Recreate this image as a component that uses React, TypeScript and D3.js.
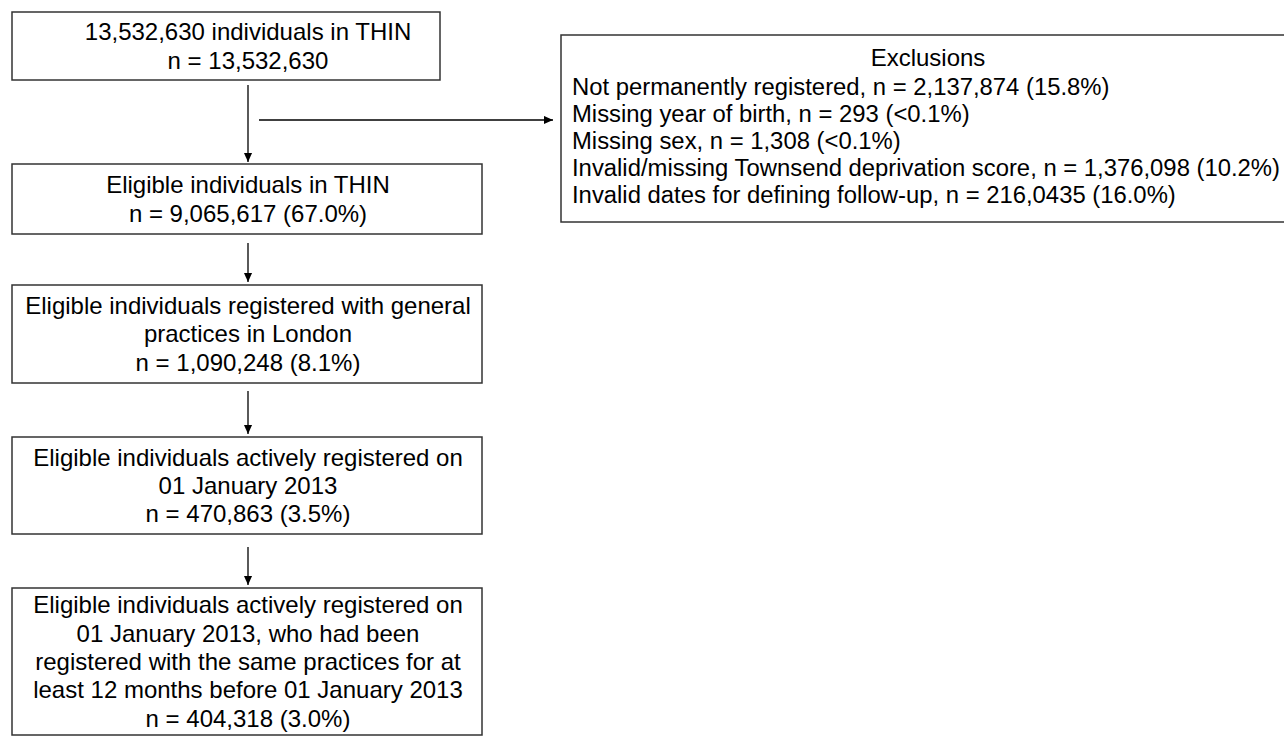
import React, { useEffect, useRef } from 'react'
import * as d3 from 'd3'

// flow steps (text lines of each box)
const stepLabels: string[][] = [
  ['13,532,630 individuals in THIN', 'n = 13,532,630'],
  ['Eligible individuals in THIN', 'n = 9,065,617 (67.0%)'],
  ['Eligible individuals registered with general', 'practices in London', 'n = 1,090,248 (8.1%)'],
  ['Eligible individuals actively registered on', '01 January 2013', 'n = 470,863 (3.5%)'],
  [
    'Eligible individuals actively registered on',
    '01 January 2013, who had been',
    'registered with the same practices for at',
    'least 12 months before 01 January 2013',
    'n = 404,318 (3.0%)',
  ],
]

const exclusionTitle = 'Exclusions'
const exclusionLines: string[] = [
  'Not permanently registered, n = 2,137,874 (15.8%)',
  'Missing year of birth, n = 293 (<0.1%)',
  'Missing sex, n = 1,308 (<0.1%)',
  'Invalid/missing Townsend deprivation score, n = 1,376,098 (10.2%)',
  'Invalid dates for defining follow-up, n = 216,0435 (16.0%)',
]

// layout of the boxes (x0, y0, x1, y1)
const stepBoxes = [
  [12, 12, 440, 80],
  [12, 164, 482, 234],
  [12, 285, 482, 383],
  [12, 437, 482, 534],
  [12, 588, 482, 735],
]
const arrowSpans = [
  [85, 162],
  [243, 282],
  [391, 434],
  [547, 585],
]

const App = () => {
  const ref = useRef<SVGSVGElement>(null)

  useEffect(() => {
    draw()
  })

  const draw = () => {
    const width = 1284
    const height = 740
    const lineH = 28.3
    const font = 'Liberation Sans, Arial, sans-serif'
    const svg = d3.select(ref.current)
    svg.selectAll('*').remove()
    svg.attr('width', width).attr('height', height)

    svg
      .append('defs')
      .append('marker')
      .attr('id', 'arr')
      .attr('viewBox', '0 0 10 10')
      .attr('refX', 10)
      .attr('refY', 5)
      .attr('markerWidth', 9)
      .attr('markerHeight', 9)
      .attr('markerUnits', 'userSpaceOnUse')
      .attr('orient', 'auto')
      .append('path')
      .attr('d', 'M0,0.5L10,5L0,9.5Z')
      .attr('fill', '#000')

    const xMid = 248

    const g = svg.append('g')
    stepLabels.forEach((lines, i) => {
      const [x0, y0, x1, y1] = stepBoxes[i]
      g.append('rect')
        .attr('x', x0)
        .attr('y', y0)
        .attr('width', x1 - x0)
        .attr('height', y1 - y0)
        .attr('fill', '#fff')
        .attr('stroke', '#333')
        .attr('stroke-width', 1.5)
      // text sits on the flow axis, not on the (narrower) first box
      const cy = (y0 + y1) / 2
      const yScale = d3
        .scaleLinear()
        .domain([0, lines.length - 1])
        .range([cy - ((lines.length - 1) * lineH) / 2, cy + ((lines.length - 1) * lineH) / 2])
      g.selectAll(null)
        .data(lines)
        .enter()
        .append('text')
        .attr('x', xMid)
        .attr('y', (_d, j) => yScale(j))
        .attr('dy', '0.35em')
        .attr('text-anchor', 'middle')
        .attr('font-family', font)
        .attr('font-size', 24)
        .attr('fill', '#000')
        .text((d) => d)
    })

    // down arrows
    g.selectAll(null)
      .data(arrowSpans)
      .enter()
      .append('line')
      .attr('x1', xMid)
      .attr('x2', xMid)
      .attr('y1', (d) => d[0])
      .attr('y2', (d) => d[1])
      .attr('stroke', '#000')
      .attr('stroke-width', 1.3)
      .attr('marker-end', 'url(#arr)')

    // side arrow to exclusions
    g.append('line')
      .attr('x1', 259)
      .attr('x2', 553)
      .attr('y1', 120)
      .attr('y2', 120)
      .attr('stroke', '#000')
      .attr('stroke-width', 1.3)
      .attr('marker-end', 'url(#arr)')

    // exclusions box (runs past the right edge)
    const ex0 = 561
    const ey0 = 35
    const ey1 = 222
    g.append('rect')
      .attr('x', ex0)
      .attr('y', ey0)
      .attr('width', 800)
      .attr('height', ey1 - ey0)
      .attr('fill', '#fff')
      .attr('stroke', '#333')
      .attr('stroke-width', 1.5)

    const exY = d3.scaleLinear().domain([0, 4]).range([87, 195])
    g.append('text')
      .attr('x', 928)
      .attr('y', 58)
      .attr('dy', '0.35em')
      .attr('text-anchor', 'middle')
      .attr('font-family', font)
      .attr('font-size', 24)
      .text(exclusionTitle)
    g.selectAll(null)
      .data(exclusionLines)
      .enter()
      .append('text')
      .attr('x', 572)
      .attr('y', (_d, i) => exY(i))
      .attr('dy', '0.35em')
      .attr('font-family', font)
      .attr('font-size', 23.85)
      .text((d) => d)
  }

  return <svg ref={ref} style={{ position: 'absolute', left: 0, top: 0, display: 'block' }} />
}

export default App
